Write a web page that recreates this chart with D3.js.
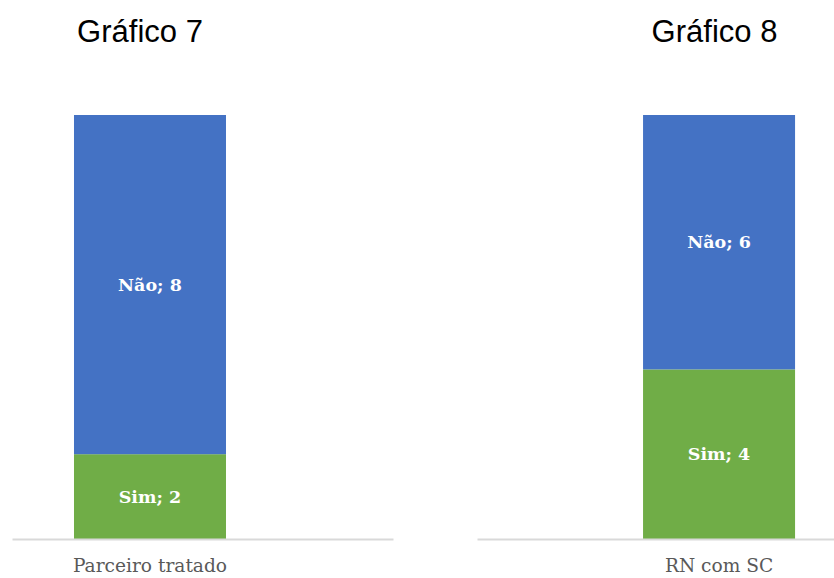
<!DOCTYPE html>
<html>
<head>
<meta charset="utf-8">
<script src="https://cdn.jsdelivr.net/npm/d3@7"></script>
<style>
  html, body { margin: 0; padding: 0; background: #fff; }
  svg { display: block; }
</style>
</head>
<body>
<svg id="chart" width="834" height="578"></svg>
<script>
// Chart data
const titles = ["Gráfico 7", "Gráfico 8"];
const categories = ["Parceiro tratado", "RN com SC"];
const seriesNames = ["Sim", "Não"];
const simValues = [2, 4];
const naoValues = [8, 6];
const seriesColors = ["#70AD47", "#4472C4"];

const svg = d3.select("#chart");

// Panel layout: axis extent, band padding/alignment and title centre
const panels = [
  { range: [12, 393], paddingOuter: 0.7533, align: 0.2707, titleX: 140 },
  { range: [477, 840], paddingOuter: 0.694, align: 0.787, titleX: 714.5 }
];

const y = d3.scaleLinear().domain([0, 10]).range([539, 115]);

panels.forEach((p, i) => {
  const g = svg.append("g");
  const x = d3.scaleBand()
    .domain([categories[i]])
    .range(p.range)
    .paddingInner(0)
    .paddingOuter(p.paddingOuter)
    .align(p.align);

  const rows = [{ Sim: simValues[i], "Não": naoValues[i], cat: categories[i] }];
  const stacked = d3.stack().keys(seriesNames)(rows);

  // stacked bars with "serie; valor" labels
  stacked.forEach((layer, k) => {
    const d = layer[0];
    g.append("rect")
      .attr("x", x(categories[i]))
      .attr("width", x.bandwidth())
      .attr("y", y(d[1]))
      .attr("height", y(d[0]) - y(d[1]))
      .attr("fill", seriesColors[k]);
    g.append("text")
      .attr("x", x(categories[i]) + x.bandwidth() / 2)
      .attr("y", (y(d[0]) + y(d[1])) / 2)
      .attr("dy", "0.35em")
      .attr("text-anchor", "middle")
      .attr("fill", "#ffffff")
      .attr("font-family", "'DejaVu Serif', serif")
      .attr("font-weight", "bold")
      .attr("font-size", 17.5)
      .text(`${layer.key}; ${d.data[layer.key]}`);
  });

  // category axis
  const axis = g.append("g")
    .attr("transform", `translate(0,${y(0)})`)
    .call(d3.axisBottom(x).tickSize(0).tickPadding(20));
  axis.select(".domain").attr("stroke", "#d9d9d9").attr("stroke-width", 2);
  axis.selectAll("text")
    .attr("fill", "#595959")
    .attr("font-family", "'DejaVu Serif', serif")
    .attr("font-size", 18.6);

  // panel title
  svg.append("text")
    .attr("x", p.titleX)
    .attr("y", 42)
    .attr("text-anchor", "middle")
    .attr("font-family", "'Liberation Sans', Arial, sans-serif")
    .attr("font-size", 31)
    .attr("fill", "#000")
    .text(titles[i]);
});
</script>
</body>
</html>
